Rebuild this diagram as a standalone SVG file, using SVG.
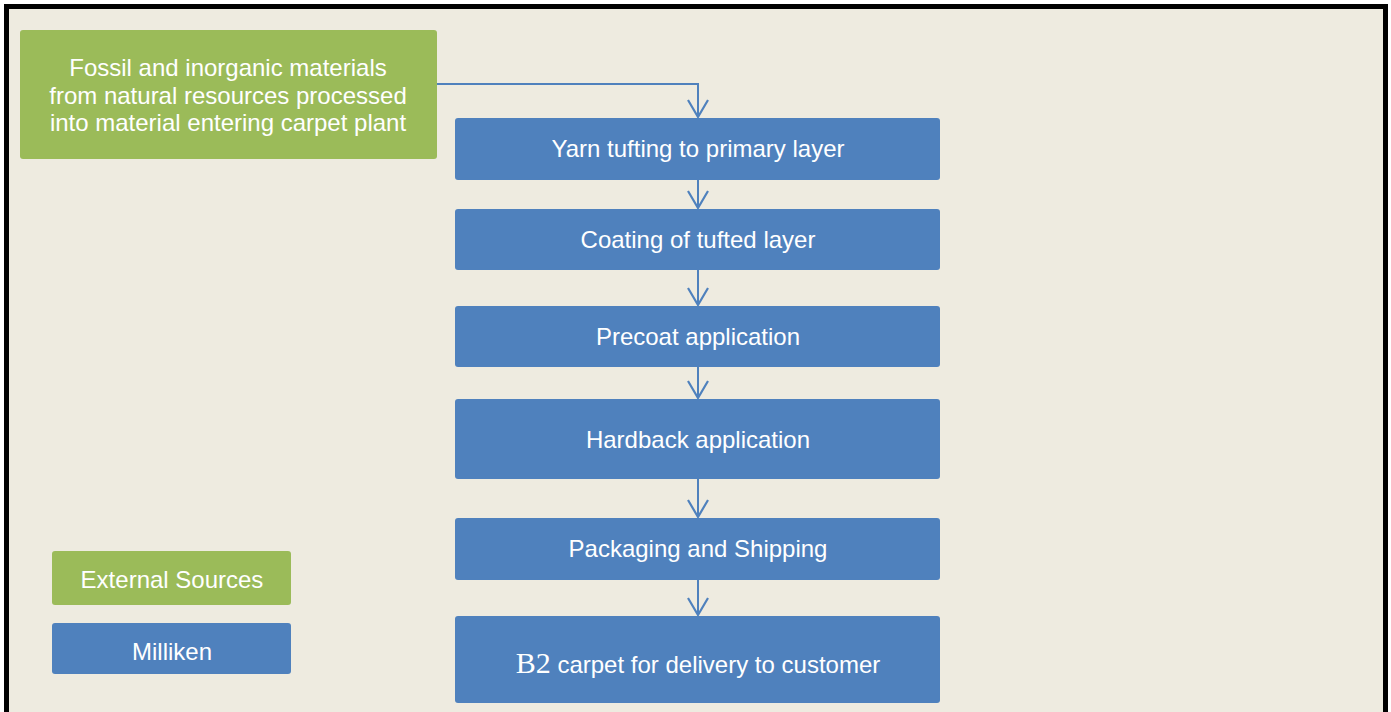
<svg xmlns="http://www.w3.org/2000/svg" width="1391" height="712" viewBox="0 0 1391 712">
  <style>
    .ext { fill: #9BBB59; }
    .mil { fill: #4F81BD; }
    .lbl { font-family: "Liberation Sans", Arial, sans-serif; font-size: 24px; fill: #FFFFFF; text-anchor: middle; }
    .conn { fill: none; stroke: #4F81BD; stroke-width: 2; }
  </style>
  <defs>
    <!-- open V arrowhead, tip drawn along +x so orient="auto" follows the path -->
    <marker id="open-arrow" viewBox="0 0 22 24" refX="20" refY="12" markerWidth="22" markerHeight="24" markerUnits="userSpaceOnUse" orient="auto">
      <path d="M3 2 L20 12 L3 22" fill="none" stroke="#4F81BD" stroke-width="2.2"/>
    </marker>
  </defs>

  <!-- page background and frame -->
  <rect x="0" y="0" width="1391" height="712" fill="#FFFFFF"/>
  <rect x="6.5" y="6.5" width="1379" height="720" fill="#EEEBE0" stroke="#000000" stroke-width="5"/>

  <!-- connectors -->
  <g id="connectors">
    <path class="conn" d="M437 84 H698 V117" marker-end="url(#open-arrow)"/>
    <path class="conn" d="M698 180 V208" marker-end="url(#open-arrow)"/>
    <path class="conn" d="M698 270 V305" marker-end="url(#open-arrow)"/>
    <path class="conn" d="M698 367 V398" marker-end="url(#open-arrow)"/>
    <path class="conn" d="M698 479 V517" marker-end="url(#open-arrow)"/>
    <path class="conn" d="M698 580 V615" marker-end="url(#open-arrow)"/>
  </g>

  <g id="source">
    <rect class="ext" x="20" y="30" width="417" height="129" rx="3"/>
    <text class="lbl" x="228" y="76">Fossil and inorganic materials</text>
    <text class="lbl" x="228" y="104">from natural resources processed</text>
    <text class="lbl" x="228" y="131">into material entering carpet plant</text>
  </g>

  <g id="tufting">
    <rect class="mil" x="455" y="118" width="485" height="62" rx="3"/>
    <text class="lbl" x="698" y="157">Yarn tufting to primary layer</text>
  </g>

  <g id="coating">
    <rect class="mil" x="455" y="209" width="485" height="61" rx="3"/>
    <text class="lbl" x="698" y="248">Coating of tufted layer</text>
  </g>

  <g id="precoat">
    <rect class="mil" x="455" y="306" width="485" height="61" rx="3"/>
    <text class="lbl" x="698" y="345">Precoat application</text>
  </g>

  <g id="hardback">
    <rect class="mil" x="455" y="399" width="485" height="80" rx="3"/>
    <text class="lbl" x="698" y="448">Hardback application</text>
  </g>

  <g id="packaging">
    <rect class="mil" x="455" y="518" width="485" height="62" rx="3"/>
    <text class="lbl" x="698" y="557">Packaging and Shipping</text>
  </g>

  <g id="delivery">
    <rect class="mil" x="455" y="616" width="485" height="87" rx="3"/>
    <text class="lbl" x="698" y="673"><tspan font-family="'Liberation Serif', 'Times New Roman', serif" font-size="30px">B2</tspan> carpet for delivery to customer</text>
  </g>

  <g id="legend-external">
    <rect class="ext" x="52" y="551" width="239" height="54" rx="3"/>
    <text class="lbl" x="172" y="588">External Sources</text>
  </g>

  <g id="legend-milliken">
    <rect class="mil" x="52" y="623" width="239" height="51" rx="3"/>
    <text class="lbl" x="172" y="660">Milliken</text>
  </g>
</svg>
